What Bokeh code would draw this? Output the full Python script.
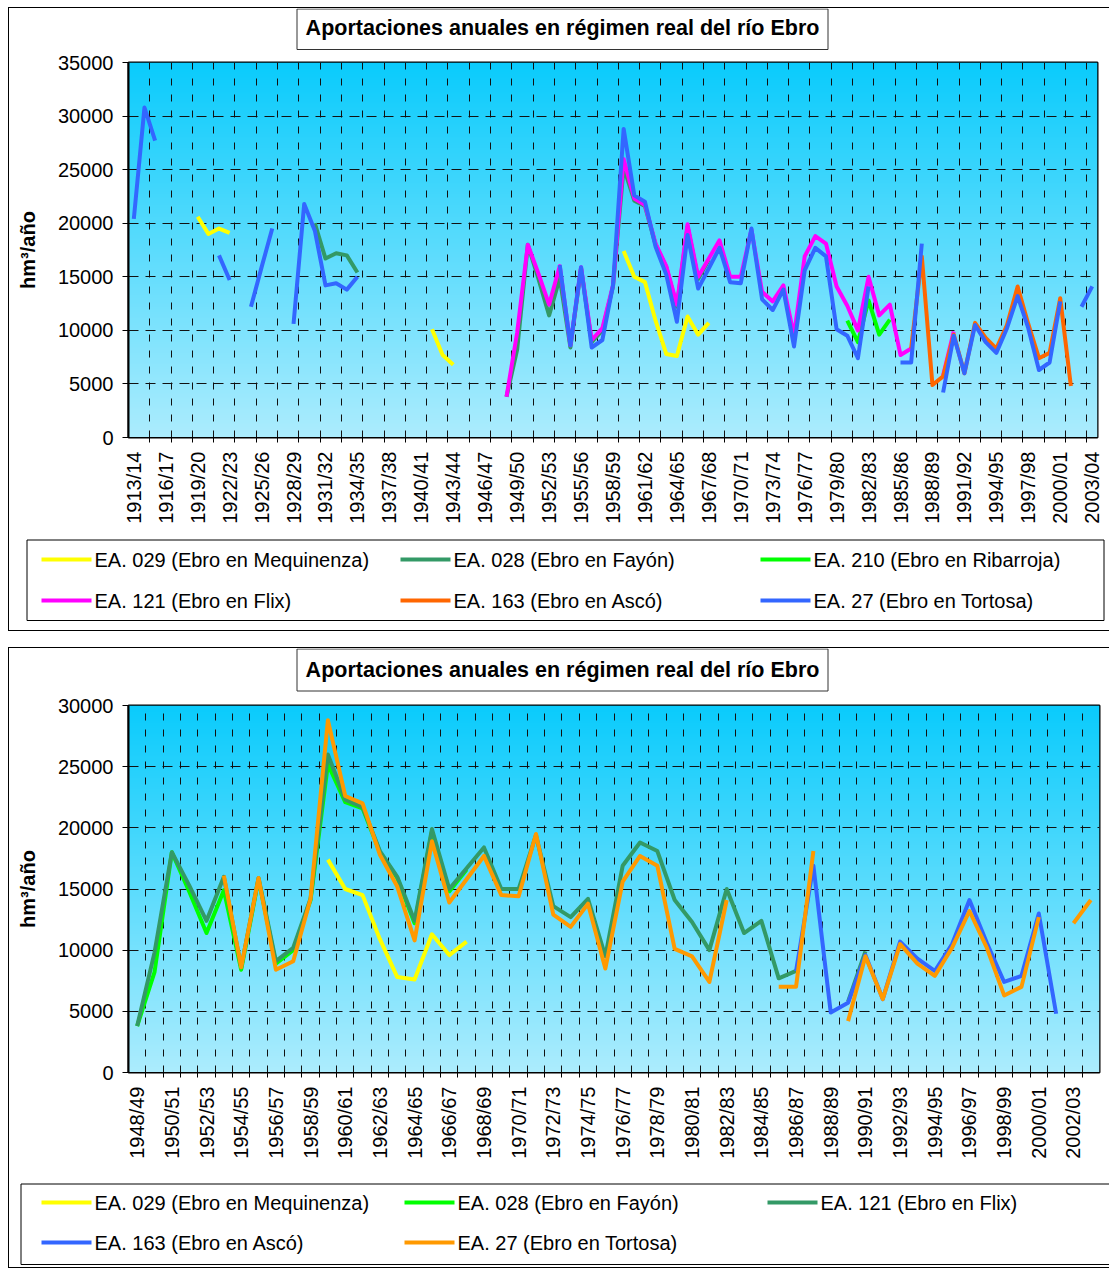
import math
import numpy as np
from bokeh.plotting import figure
from bokeh.models import ColumnDataSource, FixedTicker, Range1d
from bokeh.layouts import column
from bokeh.core.properties import value
from bokeh.embed import file_html
from bokeh.resources import INLINE

# ---------------- data (hm3/año, keyed by hydrological year start) ----------------
start_years = list(range(1913, 2004))
seasons = [f"{y}/{str(y + 1)[-2:]}" for y in start_years]

mequinenza_029 = {1919: 20600, 1920: 19000, 1921: 19500, 1922: 19100,
                  1941: 10100, 1942: 7700, 1943: 6800,
                  1959: 17400, 1960: 15000, 1961: 14500, 1962: 10900, 1963: 7800,
                  1964: 7600, 1965: 11300, 1966: 9600, 1967: 10700}

fayon_028 = {1930: 20000, 1931: 16700, 1932: 17200, 1933: 17000, 1934: 15400,
             1948: 3800, 1949: 8200, 1950: 18000, 1951: 14800, 1952: 11400,
             1953: 14900, 1954: 8400, 1955: 15800, 1956: 8900, 1957: 10000,
             1958: 14100, 1959: 25200, 1960: 22100, 1961: 21600, 1962: 18000,
             1963: 15900, 1964: 12200, 1965: 19700, 1966: 14800, 1967: 16600}

ribarroja_210 = {1980: 10900, 1981: 8900, 1982: 12800, 1983: 9600, 1984: 11000}

flix_121 = {1948: 3800, 1949: 9800, 1950: 18000, 1951: 15300, 1952: 12400,
            1953: 16000, 1954: 8600, 1955: 15900, 1956: 9100, 1957: 10200,
            1958: 14200, 1959: 26000, 1960: 22300, 1961: 21700, 1962: 18100,
            1963: 16000, 1964: 12400, 1965: 19900, 1966: 15000, 1967: 16700,
            1968: 18400, 1969: 15000, 1970: 15000, 1971: 19400, 1972: 13600,
            1973: 12700, 1974: 14200, 1975: 9500, 1976: 16900, 1977: 18800,
            1978: 18100, 1979: 14100, 1980: 12300, 1981: 10000, 1982: 15000,
            1983: 11400, 1984: 12400, 1985: 7700, 1986: 8300,
            1989: 5800, 1990: 9900}

asco_163 = {1986: 8300, 1987: 16900, 1988: 4900, 1989: 5700, 1990: 9600,
            1991: 6000, 1992: 10700, 1993: 9300, 1994: 8300, 1995: 10500,
            1996: 14100, 1997: 10600, 1998: 7400, 1999: 7900, 2000: 13000,
            2001: 4800}

tortosa_27 = {1913: 20400, 1914: 30800, 1915: 27700,
              1921: 17000, 1922: 14700,
              1924: 12200, 1925: 15900, 1926: 19500,
              1928: 10600, 1929: 21800, 1930: 19300, 1931: 14200, 1932: 14400,
              1933: 13800, 1934: 15000,
              1953: 16100, 1954: 8600, 1955: 15900, 1956: 8400, 1957: 9100,
              1958: 14200, 1959: 28800, 1960: 22600, 1961: 22000, 1962: 17800,
              1963: 15200, 1964: 10800, 1965: 18900, 1966: 13900, 1967: 15800,
              1968: 17700, 1969: 14500, 1970: 14400, 1971: 19500, 1972: 12900,
              1973: 11900, 1974: 13800, 1975: 8500, 1976: 15600, 1977: 17700,
              1978: 16900, 1979: 10100, 1980: 9500, 1981: 7400, 1982: 14100,
              1985: 7000, 1986: 7000, 1987: 18100,
              1989: 4200, 1990: 9500, 1991: 6000, 1992: 10500, 1993: 8900,
              1994: 7900, 1995: 10200, 1996: 13200, 1997: 10200, 1998: 6300,
              1999: 7000, 2000: 12700, 2002: 12200, 2003: 14100}

labels = {
    "029": "EA. 029 (Ebro en Mequinenza)",
    "028": "EA. 028 (Ebro en Fayón)",
    "210": "EA. 210 (Ebro en Ribarroja)",
    "121": "EA. 121 (Ebro en Flix)",
    "163": "EA. 163 (Ebro en Ascó)",
    "27": "EA. 27 (Ebro en Tortosa)",
}

TITLE = "Aportaciones anuales en régimen real del río Ebro"
Y_LABEL = "hm³/año"
FONT = "Liberation Sans"
W = 1100
FL = 119


def series(d, years):
    return [d.get(y, float("nan")) for y in years]


def pixel_fig(h):
    """A figure whose frame is the whole canvas, with 1 data unit = 1 pixel."""
    f = figure(width=W, height=h, x_range=Range1d(0, W), y_range=Range1d(h, 0),
               output_backend="svg", toolbar_location=None,
               x_axis_location=None, y_axis_location=None,
               min_border_left=0, min_border_right=0, min_border_top=0,
               min_border_bottom=0, title=None, frame_align=False)
    f.grid.visible = False
    f.outline_line_color = None
    f.background_fill_color = "white"
    f.border_fill_color = "white"
    return f


def title_fig(h, box, ty):
    f = pixel_fig(h)
    l, r, t, b = box
    f.quad(left=[l], right=[r], top=[t], bottom=[b], fill_color="white",
           line_color="#333333", line_width=1)
    f.text(x=[(l + r) / 2], y=[ty], text=[TITLE], text_font=value(FONT),
           text_font_size="21.5px", text_font_style="bold", text_color="black",
           text_align="center", text_baseline="middle")
    return f


def legend_fig(h, box, rows_y, cols_x, stations):
    f = pixel_fig(h)
    l, r, t, b = box
    f.quad(left=[l], right=[r], top=[t], bottom=[b], fill_color="white",
           line_color="black", line_width=1)
    x0, x1, y0, tx, txt, col = [], [], [], [], [], []
    for k, (code, d, color) in enumerate(stations):
        rx = cols_x[k % 3]
        ry = rows_y[k // 3]
        x0.append(rx)
        x1.append(rx + 50)
        y0.append(ry)
        tx.append(rx + 53)
        txt.append(labels[code])
        col.append(color)
    f.segment(x0=x0, y0=y0, x1=x1, y1=y0, line_color=col, line_width=4)
    f.text(x=tx, y=y0, text=txt, text_font=value(FONT), text_font_size="20px",
           text_color="black", text_align="left", text_baseline="middle")
    return f


def main_fig(years, stations, y_max, fig_h, frame_top, frame_bottom, frame_right,
             label_step, grid_step):
    n = len(years)
    p = figure(width=W, height=fig_h, x_range=Range1d(-0.5, n - 0.5),
               y_range=Range1d(0, y_max), output_backend="svg",
               toolbar_location=None, min_border_left=FL,
               min_border_right=W - frame_right, min_border_top=frame_top,
               min_border_bottom=fig_h - frame_bottom, title=None,
               frame_align=False)
    p.border_fill_color = "white"
    p.background_fill_color = "#8fe0fb"
    p.outline_line_color = "black"
    p.outline_line_width = 2

    # gradient background of the plot area
    rows = 300
    tt = np.linspace(0.0, 1.0, rows)[:, None]
    bottom_c = np.array([172, 236, 253], dtype=float)
    top_c = np.array([10, 203, 252], dtype=float)
    cols = (bottom_c * (1 - tt) + top_c * tt).round().astype(np.uint8)
    img = np.empty((rows, 1), dtype=np.uint32)
    view = img.view(dtype=np.uint8).reshape((rows, 1, 4))
    view[:, 0, 0] = cols[:, 0]
    view[:, 0, 1] = cols[:, 1]
    view[:, 0, 2] = cols[:, 2]
    view[:, 0, 3] = 255
    p.image_rgba(image=[img], x=-0.5, y=0, dw=n, dh=y_max, level="image")

    # axes
    label_pos = list(range(0, n, label_step))
    bounds = [k + 0.5 for k in range(grid_step - 1, n - 1, grid_step)]
    xa = p.xaxis[0]
    xa.ticker = FixedTicker(ticks=label_pos, minor_ticks=bounds)
    xa.major_label_overrides = {i: seasons[start_years.index(years[i])] for i in label_pos}
    xa.major_label_orientation = math.pi / 2
    xa.major_tick_line_color = None
    xa.major_tick_out = 5
    xa.minor_tick_line_color = "black"
    xa.minor_tick_out = 5
    xa.minor_tick_in = 0
    xa.major_label_standoff = 9
    xa.major_label_text_font = FONT
    xa.major_label_text_font_size = "20px"
    xa.major_label_text_color = "black"
    xa.axis_line_color = "black"

    ya = p.yaxis[0]
    ya.ticker = FixedTicker(ticks=list(range(0, y_max + 1, 5000)))
    ya.major_tick_out = 6
    ya.major_tick_in = 0
    ya.major_tick_line_color = "black"
    ya.minor_tick_line_color = None
    ya.major_label_standoff = 9
    ya.major_label_text_font = FONT
    ya.major_label_text_font_size = "20px"
    ya.major_label_text_color = "black"
    ya.axis_line_color = "black"
    ya.axis_line_width = 2
    ya.axis_label = Y_LABEL
    ya.axis_label_text_font = FONT
    ya.axis_label_text_font_size = "20px"
    ya.axis_label_text_font_style = "bold"
    ya.axis_label_text_color = "black"
    ya.axis_label_standoff = 16

    p.xgrid.ticker = FixedTicker(ticks=bounds)
    p.xgrid.grid_line_color = "#111111"
    p.xgrid.grid_line_width = 1
    p.xgrid.grid_line_dash = "7 9"
    p.ygrid.ticker = FixedTicker(ticks=list(range(5000, y_max, 5000)))
    p.ygrid.grid_line_color = "#111111"
    p.ygrid.grid_line_width = 1
    p.ygrid.grid_line_dash = "10 7"

    data = {"x": list(range(n))}
    for k, (code, d, color) in enumerate(stations):
        data[f"s{k}"] = series(d, years)
    src = ColumnDataSource(data)
    for k, (code, d, color) in enumerate(stations):
        p.line(x="x", y=f"s{k}", source=src, line_color=color,
               line_width=4, line_join="round")
    return p


top_stations = [("029", mequinenza_029, "#FFFF00"),
                ("028", fayon_028, "#339966"),
                ("210", ribarroja_210, "#00FF00"),
                ("121", flix_121, "#FF00FF"),
                ("163", asco_163, "#FF6600"),
                ("27", tortosa_27, "#3366FF")]

bottom_years = list(range(1948, 2004))
bottom_stations = [("029", mequinenza_029, "#FFFF00"),
                   ("028", fayon_028, "#00FF00"),
                   ("121", flix_121, "#339966"),
                   ("163", asco_163, "#3366FF"),
                   ("27", tortosa_27, "#FF9900")]

# chart 1: page y 8..630  (title 42, plot 482, legend 98)
t1 = title_fig(42, (287.5, 818.5, 0.5, 41), 19)
m1 = main_fig(start_years, top_stations, 35000, 482, 12, 387, 1088, 3, 2)
g1 = legend_fig(98, (17.5, 1094.5, 7.5, 88), (27, 68), (32, 391, 751), top_stations)
chart1 = column(t1, m1, g1, spacing=0, margin=(8, 0, 0, 9),
                styles={"outline": "1px solid black"})

# chart 2: page y 649..1268  (title 44, plot 486, legend 89)
t2 = title_fig(44, (287.5, 818.5, 0.5, 42.5), 21)
m2 = main_fig(bottom_years, bottom_stations, 30000, 486, 13, 380, 1090, 2, 1)
g2 = legend_fig(89, (11.5, 1130, 5.5, 86), (24, 64), (32, 395, 758), bottom_stations)
chart2 = column(t2, m2, g2, spacing=0, margin=(18, 0, 0, 9),
                styles={"outline": "1px solid black"})

layout = column(chart1, chart2, spacing=0)
open("out.html", "w").write(file_html(layout, INLINE))
